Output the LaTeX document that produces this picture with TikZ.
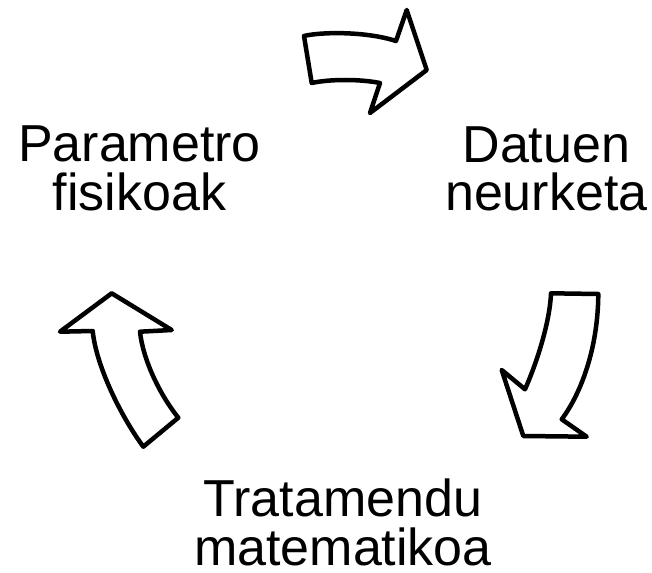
\documentclass[tikz,border=0pt]{standalone}
\usepackage{fontspec}
\setmainfont{Liberation Sans}
\begin{document}
\begin{tikzpicture}[x=1pt,y=-1pt,
  cyclearrow/.style={draw=black,line width=4.5pt,line join=round,fill=white},
  lbl/.style={inner sep=0pt,align=center,anchor=base,text depth=0pt,font=\fontsize{52}{48.5}\selectfont}]
\useasboundingbox (0,0) rectangle (652,572);
% top arrow
\draw[cyclearrow] (304,36) .. controls (320,32) and (365,31) .. (396,41)
  -- (406.7,10) -- (426.7,70) -- (370,113) -- (380,83)
  .. controls (360,79) and (330,79) .. (311.7,83) -- cycle;
% right arrow
\draw[cyclearrow] (551,293.3) -- (598.3,294)
  .. controls (598,350) and (580,395) .. (561.7,419.3)
  -- (586.7,436.7) -- (523.3,436) -- (501.7,370) -- (525,389.3)
  .. controls (538,360) and (550,320) .. (551,293.3) -- cycle;
% left arrow
\draw[cyclearrow] (111.7,293.3) -- (171.7,330) -- (140,331.7)
  .. controls (143,360) and (160,395) .. (178.3,417.7)
  -- (143.3,446.7)
  .. controls (120,415) and (96,365) .. (92.7,331)
  -- (60,331.7) -- cycle;
\node[lbl] (param) at (139.5,210) {Parametro\\fisikoak};
\node[lbl] (datuak) at (546.3,210.7) {Datuen\\neurketa};
\node[lbl] (trat) at (343,565) {Tratamendu\\matematikoa};
\end{tikzpicture}
\end{document}
